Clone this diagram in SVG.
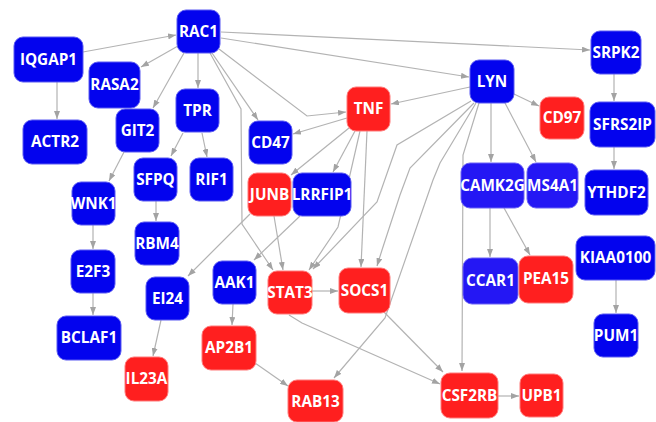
<svg xmlns="http://www.w3.org/2000/svg" width="656" height="422" viewBox="0 0 656 422">
<defs>
<marker id="arr" viewBox="0 0 8 6" refX="8" refY="3" markerWidth="8" markerHeight="6" markerUnits="userSpaceOnUse" orient="auto">
<path d="M0,0 L8,3 L0,6 Z" fill="#a3a3a3"/>
</marker>
<style>
.e{fill:none;stroke:#b3b3b3;stroke-width:1.2;marker-end:url(#arr)}
.b rect{fill:#0303ee;stroke:#5a5af2;stroke-width:1}
.l rect{fill:#2417f4;stroke:#6a62f5;stroke-width:1}
.r rect{fill:#ff1f1f;stroke:#ff7a7a;stroke-width:1}
text{font-family:"Open Sans","Noto Sans","Liberation Sans",sans-serif;font-weight:bold;font-size:15.3px;fill:#ffffff;text-anchor:middle}
</style>
</defs>
<rect width="656" height="422" fill="#ffffff"/>
<g id="edges">
<path class="e" d="M83,52 L176,35"/>
<path class="e" d="M57,82 L57,119"/>
<path class="e" d="M178,46 L141,67"/>
<path class="e" d="M184,53 L153,108"/>
<path class="e" d="M198,53 L198,88"/>
<path class="e" d="M212,53 L258,120"/>
<path class="e" d="M210,53 L241,109 L242,224 L273,270"/>
<path class="e" d="M219,49 L307,116 L346,112"/>
<path class="e" d="M221,38 L469,77"/>
<path class="e" d="M221,32 L590,50"/>
<path class="e" d="M183,133 L171,156"/>
<path class="e" d="M202,133 L207,157"/>
<path class="e" d="M124,152 L109,181"/>
<path class="e" d="M156,201 L156,221"/>
<path class="e" d="M93,225 L93,249"/>
<path class="e" d="M93,293 L93,315"/>
<path class="e" d="M347,118 L293,134"/>
<path class="e" d="M349,128 L291,175"/>
<path class="e" d="M355,131 L333,172"/>
<path class="e" d="M360,131 L338,227 L309,270"/>
<path class="e" d="M367,131 L361,267"/>
<path class="e" d="M470,87 L391,104"/>
<path class="e" d="M514,94 L539,106"/>
<path class="e" d="M491,103 L491,162"/>
<path class="e" d="M505,103 L536,162"/>
<path class="e" d="M471,101 L397,145 L377,202 L313,269"/>
<path class="e" d="M474,103 L410,168 L400,195 L382,250 L377,266"/>
<path class="e" d="M476,103 L440,163 L433,180 L385,318 L334,378"/>
<path class="e" d="M479,103 L463,155 L462,371"/>
<path class="e" d="M614,74 L614,101"/>
<path class="e" d="M614,147 L614,169"/>
<path class="e" d="M490,208 L490,257"/>
<path class="e" d="M504,208 L530,255"/>
<path class="e" d="M616,280 L616,313"/>
<path class="e" d="M274,216 L283,270"/>
<path class="e" d="M250,214 L188,276"/>
<path class="e" d="M300,216 L254,260"/>
<path class="e" d="M161,320 L153,356"/>
<path class="e" d="M233,304 L232,325"/>
<path class="e" d="M255,363 L288,386"/>
<path class="e" d="M312,291 L338,291"/>
<path class="e" d="M289,315 L302,323 L440,384"/>
<path class="e" d="M383,311 L443,372"/>
<path class="e" d="M498,396 L519,396"/>
</g>
<g id="RAC1" class="b"><rect x="177" y="10" width="43" height="43" rx="9"/><text x="198.5" y="37">RAC1</text></g>
<g id="IQGAP1" class="b"><rect x="14" y="37" width="69" height="45" rx="9"/><text x="48.5" y="65">IQGAP1</text></g>
<g id="RASA2" class="b"><rect x="89" y="62" width="51" height="46" rx="9"/><text x="114.5" y="90">RASA2</text></g>
<g id="GIT2" class="b"><rect x="116" y="109" width="43" height="43" rx="9"/><text x="137.5" y="136">GIT2</text></g>
<g id="TPR" class="b"><rect x="176" y="89" width="43" height="43" rx="9"/><text x="197.5" y="116">TPR</text></g>
<g id="ACTR2" class="b"><rect x="23" y="120" width="64" height="44" rx="9"/><text x="55" y="147">ACTR2</text></g>
<g id="CD47" class="b"><rect x="249" y="121" width="43" height="43" rx="9"/><text x="270.5" y="148">CD47</text></g>
<g id="SFPQ" class="b"><rect x="134" y="158" width="43" height="43" rx="9"/><text x="155.5" y="185">SFPQ</text></g>
<g id="RIF1" class="b"><rect x="190" y="158" width="43" height="43" rx="9"/><text x="211.5" y="185">RIF1</text></g>
<g id="JUNB" class="r"><rect x="248" y="173" width="43" height="43" rx="9"/><text x="269.5" y="200">JUNB</text></g>
<g id="LRRFIP1" class="b"><rect x="293" y="173" width="58" height="43" rx="9"/><text x="322" y="200">LRRFIP1</text></g>
<g id="WNK1" class="b"><rect x="72" y="182" width="43" height="43" rx="9"/><text x="93.5" y="209">WNK1</text></g>
<g id="SRPK2" class="b"><rect x="591" y="31" width="50" height="43" rx="9"/><text x="616" y="58">SRPK2</text></g>
<g id="LYN" class="b"><rect x="470" y="60" width="44" height="43" rx="9"/><text x="492" y="87">LYN</text></g>
<g id="TNF" class="r"><rect x="347" y="87" width="43" height="44" rx="9"/><text x="368.5" y="114">TNF</text></g>
<g id="CD97" class="r"><rect x="540" y="97" width="44" height="42" rx="9"/><text x="562" y="123">CD97</text></g>
<g id="SFRS2IP" class="b"><rect x="590" y="102" width="65" height="45" rx="9"/><text x="622.5" y="130">SFRS2IP</text></g>
<g id="YTHDF2" class="b"><rect x="585" y="170" width="63" height="45" rx="9"/><text x="616.5" y="198">YTHDF2</text></g>
<g id="CAMK2G" class="l"><rect x="461" y="163" width="63" height="45" rx="9"/><text x="492.5" y="191">CAMK2G</text></g>
<g id="MS4A1" class="l"><rect x="527" y="163" width="51" height="45" rx="9"/><text x="552.5" y="191">MS4A1</text></g>
<g id="RBM4" class="b"><rect x="135" y="222" width="44" height="43" rx="9"/><text x="157" y="249">RBM4</text></g>
<g id="E2F3" class="b"><rect x="71" y="250" width="44" height="43" rx="9"/><text x="93" y="277">E2F3</text></g>
<g id="EI24" class="b"><rect x="146" y="277" width="43" height="43" rx="9"/><text x="167.5" y="304">EI24</text></g>
<g id="AAK1" class="b"><rect x="213" y="261" width="43" height="43" rx="9"/><text x="234.5" y="288">AAK1</text></g>
<g id="STAT3" class="r"><rect x="268" y="271" width="44" height="43" rx="9"/><text x="290" y="298">STAT3</text></g>
<g id="SOCS1" class="r"><rect x="339" y="268" width="51" height="45" rx="9"/><text x="364.5" y="296">SOCS1</text></g>
<g id="CCAR1" class="l"><rect x="463" y="258" width="55" height="46" rx="9"/><text x="490.5" y="286">CCAR1</text></g>
<g id="PEA15" class="r"><rect x="519" y="256" width="54" height="47" rx="9"/><text x="546" y="284">PEA15</text></g>
<g id="KIAA0100" class="b"><rect x="576" y="236" width="79" height="44" rx="9"/><text x="615.5" y="263">KIAA0100</text></g>
<g id="PUM1" class="b"><rect x="594" y="314" width="44" height="43" rx="9"/><text x="616" y="341">PUM1</text></g>
<g id="BCLAF1" class="b"><rect x="57" y="316" width="64" height="44" rx="9"/><text x="89" y="343">BCLAF1</text></g>
<g id="AP2B1" class="r"><rect x="202" y="326" width="54" height="44" rx="9"/><text x="229" y="353">AP2B1</text></g>
<g id="IL23A" class="r"><rect x="125" y="357" width="43" height="44" rx="9"/><text x="146.5" y="384">IL23A</text></g>
<g id="RAB13" class="r"><rect x="288" y="380" width="55" height="42" rx="9"/><text x="315.5" y="407">RAB13</text></g>
<g id="CSF2RB" class="r"><rect x="441" y="373" width="57" height="45" rx="9"/><text x="469.5" y="401">CSF2RB</text></g>
<g id="UPB1" class="r"><rect x="520" y="374" width="43" height="43" rx="9"/><text x="541.5" y="401">UPB1</text></g>
</svg>
